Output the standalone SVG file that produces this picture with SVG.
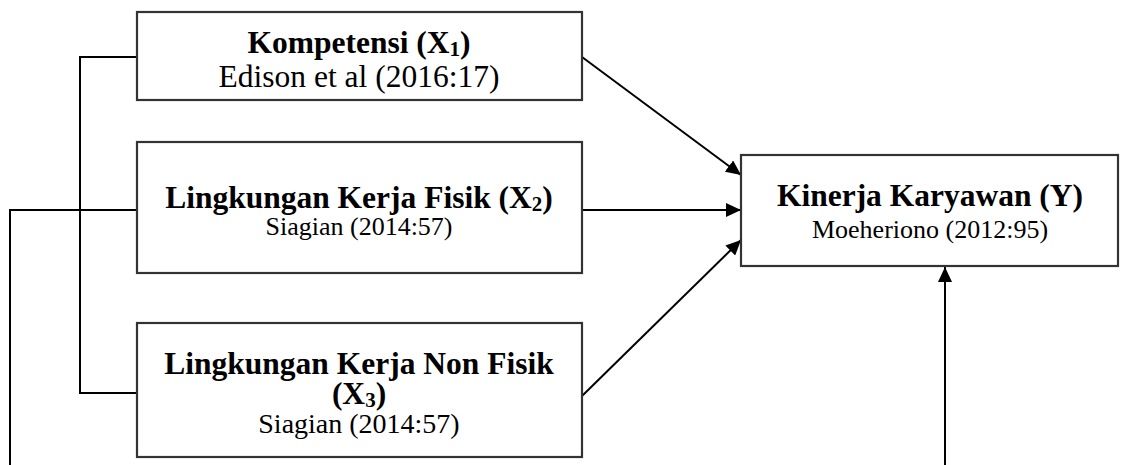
<svg xmlns="http://www.w3.org/2000/svg" width="1121" height="465" viewBox="0 0 1121 465">
<style>
.box{fill:#fff;stroke:#333;stroke-width:2.2}
.ln{fill:none;stroke:#000;stroke-width:2}
.t{font-family:"Liberation Serif","Times New Roman",serif;fill:#000;text-anchor:middle}
.b{font-weight:bold;font-size:31.5px}
.r{font-size:31.5px}
.s{font-size:26px}
.sub{font-size:21px}
</style>
<defs>
<marker id="ah" markerUnits="userSpaceOnUse" markerWidth="16" markerHeight="14" refX="15" refY="7" orient="auto">
<path d="M0,0 L15,7 L0,14 Z" fill="#000"/>
</marker>
</defs>
<rect width="1121" height="465" fill="#fff"/>
<g id="connectors">
<polyline class="ln" points="137,57 80,57 80,393 137,393"/>
<polyline class="ln" points="137,210 10,210 10,465"/>
<line class="ln" x1="582" y1="57" x2="741" y2="175" marker-end="url(#ah)"/>
<line class="ln" x1="582" y1="210" x2="741" y2="210" marker-end="url(#ah)"/>
<line class="ln" x1="582" y1="396" x2="741" y2="240" marker-end="url(#ah)"/>
<line class="ln" x1="945" y1="465" x2="945" y2="267" marker-end="url(#ah)"/>
</g>
<g id="x1">
<rect class="box" x="137" y="12" width="445" height="88"/>
<text class="t b" x="359" y="53">Kompetensi (X<tspan class="sub" dy="3">1</tspan><tspan dy="-3">)</tspan></text>
<text class="t r" x="359" y="87">Edison et al (2016:17)</text>
</g>
<g id="x2">
<rect class="box" x="137" y="142" width="445" height="131"/>
<text class="t b" x="359" y="208">Lingkungan Kerja Fisik (X<tspan class="sub" dy="3">2</tspan><tspan dy="-3">)</tspan></text>
<text class="t s" x="359" y="235">Siagian (2014:57)</text>
</g>
<g id="x3">
<rect class="box" x="137" y="323" width="445" height="134"/>
<text class="t b" x="359" y="374">Lingkungan Kerja Non Fisik</text>
<text class="t b" x="359" y="404">(X<tspan class="sub" dy="3">3</tspan><tspan dy="-3">)</tspan></text>
<text class="t" style="font-size:28px" x="359" y="433">Siagian (2014:57)</text>
</g>
<g id="y">
<rect class="box" x="741" y="155" width="377" height="111"/>
<text class="t b" x="930" y="206">Kinerja Karyawan (Y)</text>
<text class="t s" x="930" y="238">Moeheriono (2012:95)</text>
</g>
</svg>
